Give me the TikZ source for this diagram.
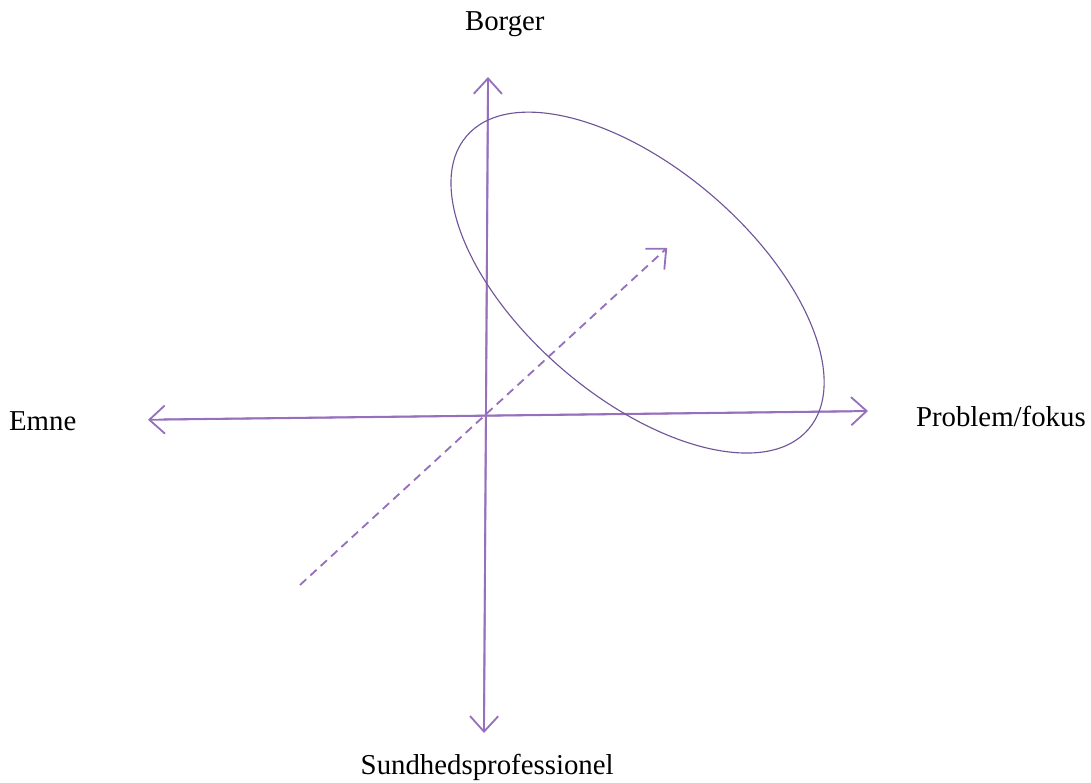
\documentclass[tikz,border=0pt]{standalone}
\usepackage{fontspec}
\setmainfont{Liberation Serif}
\usetikzlibrary{arrows.meta, positioning}
\definecolor{axispurple}{RGB}{150,112,188}
\definecolor{ringpurple}{RGB}{112,84,152}

\begin{document}
\begin{tikzpicture}[
    axis/.style={draw=axispurple, line width=1.3pt, -{Straight Barb[length=11pt, width=20pt, line width=1.3pt]}},
    lbl/.style={font=\fontsize{20.5}{24}\selectfont, inner sep=0pt}
  ]
      \useasboundingbox (0,0) rectangle (27.275,19.575);

      % axis ends
      \coordinate (top) at (12.2,17.65);
      \coordinate (topin) at (12.2,17.3);
      \coordinate (bottom) at (12.1,1.25);
      \coordinate (bottomin) at (12.1,1.6);
      \coordinate (left) at (3.7,9.08);
      \coordinate (leftin) at (4.1,9.09);
      \coordinate (right) at (21.7,9.3);
      \coordinate (rightin) at (21.3,9.29);
      \coordinate (diagstart) at (7.5,4.95);
      \coordinate (diagend) at (16.68,13.38);
      \coordinate (ringcentre) at (15.94,12.51);

      \node[lbl] (borger) at (12.62,18.98) {Borger};
      \node[lbl] (sundhed) at (12.18,0.38) {Sundhedsprofessionel};
      \node[lbl, anchor=west] (emne) at (0.22,9.05) {Emne};
      \node[lbl, anchor=east] (problem) at (27.15,9.15) {Problem/fokus};

      \draw[axis] (bottomin) -- (top);
      \draw[axis] (topin) -- (bottom);
      \draw[axis] (rightin) -- (left);
      \draw[axis] (leftin) -- (right);
      \draw[axis, dash pattern=on 6pt off 4pt] (diagstart) -- (diagend);

      \draw[ringpurple, line width=0.8pt, rotate around={-40.6:(ringcentre)}] (ringcentre) ellipse (5.63 and 2.865);
    \end{tikzpicture}
\end{document}
